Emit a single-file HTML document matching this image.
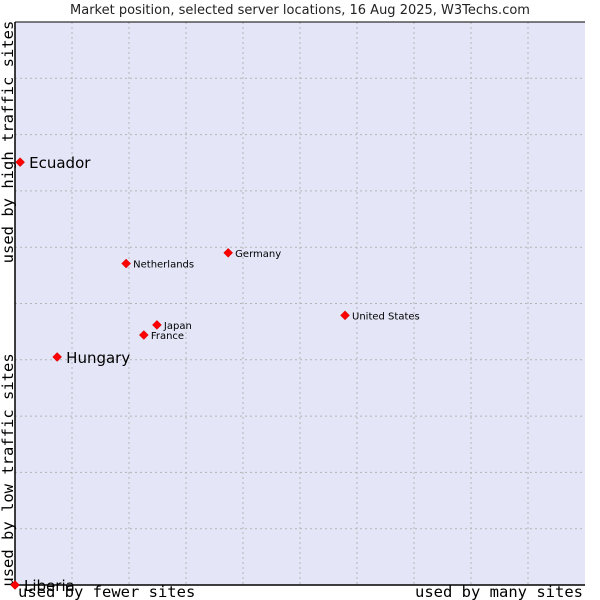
<!DOCTYPE html>
<html><head><meta charset="utf-8"><style>
html,body{margin:0;padding:0;background:#fff;width:600px;height:600px;overflow:hidden}
svg{display:block;font-family:"DejaVu Sans","Liberation Sans",sans-serif}
.mono{font-family:"DejaVu Sans Mono","Liberation Mono",monospace}
</style></head><body>
<svg id="chart" width="600" height="600">
<rect x="0" y="0" width="600" height="600" fill="#fff"/>
<text x="300" y="14" text-anchor="middle" font-size="13" fill="#222">Market position, selected server locations, 16 Aug 2025, W3Techs.com</text>
<rect x="15" y="22" width="570" height="563" fill="#e4e6f8"/>
<g id="grid"></g>
<line x1="15" y1="22" x2="15" y2="585" stroke="#000" stroke-width="1.5"/>
<line x1="15" y1="585" x2="585" y2="585" stroke="#000" stroke-width="1.5"/>
<line x1="15" y1="22" x2="585" y2="22" stroke="#000" stroke-width="1"/>
<text class="mono" x="13" y="142" transform="rotate(-90 13 142)" text-anchor="middle" font-size="15.5" fill="#000">used by high traffic sites</text>
<text class="mono" x="13" y="470" transform="rotate(-90 13 470)" text-anchor="middle" font-size="15.5" fill="#000">used by low traffic sites</text>
<text class="mono" x="18" y="597" font-size="15.5" fill="#000">used by fewer sites</text>
<text class="mono" x="583" y="597" text-anchor="end" font-size="15.5" fill="#000">used by many sites</text>
<g id="points"></g>
</svg>
<script>
const labels=["Ecuador","Hungary","Liberia","Netherlands","Germany","Japan","France","United States"];
const xValues=[0.9,7.4,0,19.5,37.4,24.9,22.6,57.9];
const yValues=[75.1,40.5,0,57.1,59.0,46.2,44.4,47.9];
const highlighted=[true,true,true,false,false,false,false,false];
const NS="http://www.w3.org/2000/svg";
const X0=15,X1=585,Y0=585,Y1=22;
function xs(v){return X0+v/100*(X1-X0);}
function ys(v){return Y0-v/100*(Y0-Y1);}
const grid=document.getElementById('grid');
for(let i=1;i<10;i++){
  const v=document.createElementNS(NS,'line');
  v.setAttribute('x1',xs(i*10));v.setAttribute('x2',xs(i*10));v.setAttribute('y1',Y1);v.setAttribute('y2',Y0);
  v.setAttribute('stroke','#b4b4b4');v.setAttribute('stroke-dasharray','2,3');
  
  
  grid.appendChild(v);
  const h=document.createElementNS(NS,'line');
  h.setAttribute('x1',X0);h.setAttribute('x2',X1);h.setAttribute('y1',ys(i*10));h.setAttribute('y2',ys(i*10));
  h.setAttribute('stroke','#b4b4b4');h.setAttribute('stroke-dasharray','2,3');
  
  
  grid.appendChild(h);
}
const pts=document.getElementById('points');
labels.forEach((l,i)=>{
  const cx=xs(xValues[i]),cy=ys(yValues[i]);
  const d=document.createElementNS(NS,'path');
  d.setAttribute('d',`M${cx-4.5} ${cy}L${cx} ${cy-4.5}L${cx+4.5} ${cy}L${cx} ${cy+4.5}Z`);
  d.setAttribute('fill','#f00');d.setAttribute('stroke','#c00');d.setAttribute('stroke-width','0.5');
  
  
  pts.appendChild(d);
  const t=document.createElementNS(NS,'text');
  const big=highlighted[i];
  t.setAttribute('x',cx+(big?9:7));t.setAttribute('y',cy+(big?6:4));
  t.setAttribute('font-size',big?'15':'10');t.setAttribute('fill','#000');
  t.textContent=l;
  
  
  pts.appendChild(t);
});
</script>
</body></html>
